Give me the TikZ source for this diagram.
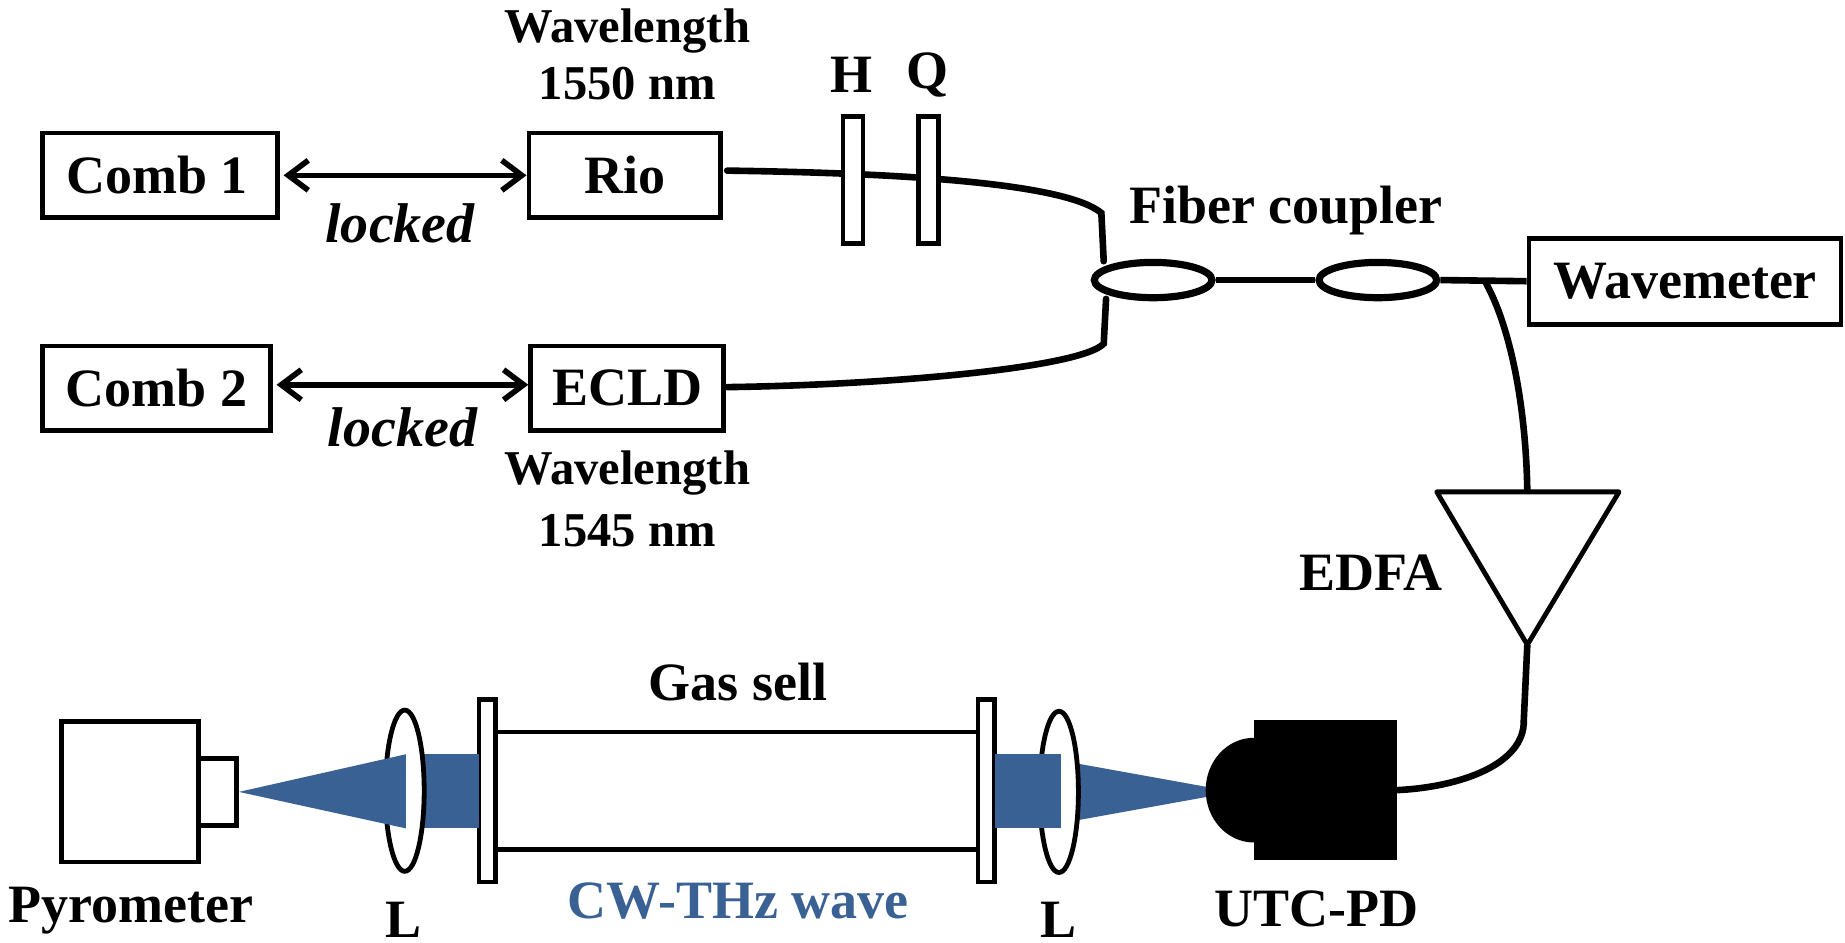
\documentclass[tikz,border=0pt]{standalone}
\usepackage{fontspec}
\setmainfont{Liberation Serif}
\usetikzlibrary{arrows.meta,shapes.geometric}
\definecolor{beam}{HTML}{3A6193}
\def\pxu{0.5883pt}
\tikzset{
  x=0.5883pt,y=-0.5883pt,
  label text/.style={font=\fontsize{27}{30}\selectfont\bfseries,inner sep=0pt,text=black},
  wave text/.style={font=\fontsize{24.3}{30}\selectfont\bfseries,inner sep=0pt,text=black},
  lock text/.style={font=\fontsize{28}{30}\selectfont\bfseries\itshape,inner sep=0pt,text=black},
  box/.style={draw,line width=2.4pt,fill=white,inner sep=0pt,label text},
  plate/.style={draw,line width=2.3pt,fill=white,inner sep=0pt,minimum width=17*\pxu},
  lens/.style={draw,ellipse,line width=2.4pt,fill=white,inner sep=0pt,minimum width=33*\pxu,minimum height=137*\pxu},
  coupler/.style={draw,ellipse,line width=3.6pt,inner sep=0pt,minimum width=100*\pxu,minimum height=30*\pxu},
  fiber/.style={line width=3.3pt},
  tube/.style={line width=2.2pt},
  lockarrow/.style={line width=2.8pt,{Straight Barb[length=10pt,width=15pt,line width=2.8pt]}-{Straight Barb[length=10pt,width=15pt,line width=2.8pt]}},
}
\begin{document}
\begin{tikzpicture}
\useasboundingbox (0,0) rectangle (1568,801);
% boxes
\node[box,minimum width=200*\pxu,minimum height=72*\pxu] (comb1) at (136,149) {\hspace*{-3pt}Comb 1};
\node[box,minimum width=163*\pxu,minimum height=72*\pxu] (rio) at (531,149) {Rio};
\node[box,minimum width=194*\pxu,minimum height=72*\pxu] (comb2) at (133,330) {Comb 2};
\node[box,minimum width=164*\pxu,minimum height=72*\pxu] (ecld) at (533,330) {ECLD};
\node[box,minimum width=265*\pxu,minimum height=73*\pxu] (wave) at (1432,239) {Wavemeter};
% locks
\draw[lockarrow] (comb1.east) ++(3,0) coordinate (c1e) -- (rio.west |- c1e);
\draw[lockarrow] (comb2.east) ++(3,-3) coordinate (c2e) -- (ecld.west |- c2e);
\node[lock text] (lock1) at (340,190) {locked};
\node[lock text] (lock2) at (342,363) {locked};
% wavelength labels
\node[wave text] (w1a) at (533,26) {Wavelength};
\node[wave text] (w1b) at (533,71) {1550 nm};
\node[wave text] (w2a) at (533,402) {Wavelength};
\node[wave text] (w2b) at (533,451) {1545 nm};
\node[label text] (hl) at (724,64) {H};
\node[label text] (ql) at (788,64) {Q};
% couplers
\node[coupler] (cp1) at (980,238) {};
\node[coupler] (cp2) at (1171,238) {};
\node[label text] (fc) at (1093,179) {Fiber coupler};
% fibers
\coordinate (f1s) at (618,145);
\coordinate (f2s) at (618,329);
\coordinate (j1) at (936,181);
\coordinate (j2) at (938,292);
\draw[fiber,line cap=round] (f1s) .. controls (760,147) and (905,155) .. (j1) -- (938,222);
\draw[fiber,line cap=round] (f2s) .. controls (760,327) and (920,312) .. (j2) -- (940,254);
\draw[fiber] (cp1.east) -- (cp2.west);
\draw[fiber] (cp2.east) -- (wave.west);
% plates
\node[plate,minimum height=108*\pxu] (hp) at (725,153) {};
\node[plate,minimum height=108*\pxu] (qp) at (789,153) {};
% EDFA
\coordinate (ta) at (1221,418);
\coordinate (tb) at (1376,418);
\coordinate (tc) at (1298,548);
\draw[line width=2.4pt,line join=round] (ta) -- (tb) -- (tc) -- cycle;
\node[label text] (edfa) at (1165,487) {EDFA};
\coordinate (br) at (1262,239);
\draw[fiber] (br) .. controls (1285,280) and (1297,350) .. (1298,418);
% gas cell
\node[plate,minimum width=14*\pxu,minimum height=155*\pxu] (gl) at (414,672) {};
\node[plate,minimum width=14*\pxu,minimum height=155*\pxu] (gr) at (838,672) {};
\draw[tube] (gl.east |- 0,622) coordinate (t1) -- (gr.west |- t1);
\draw[tube] (gl.east |- 0,722) coordinate (t2) -- (gr.west |- t2);
\node[label text] (gas) at (627,580) {Gas sell};
\node[label text,text=beam] (cw) at (627,766) {CW-THz wave};
% pyrometer
\node[box,minimum width=116*\pxu,minimum height=119*\pxu] (pyro) at (110.5,673) {};
\node[box,minimum width=32*\pxu,minimum height=57*\pxu] (pyrotip) at (185,673) {};
\node[label text] (pl) at (111,774) {Pyrometer};
% beams and lenses
\fill[beam] (352,641) rectangle (407,704);
\node[lens] (l1) at (344,672) {};
\fill[beam] (pyrotip.east) -- (345,641) -- (345,704) -- cycle;
\fill[beam] (905,647) -- (1027,669) -- (1027,677) -- (905,699) -- cycle;
\node[lens] (l2) at (900,673) {};
\fill[beam] (846,641) rectangle (902,704);
\node[label text] (l1t) at (343,782) {L};
\node[label text] (l2t) at (900,782) {L};
% UTC-PD
\node[fill=black,inner sep=0pt,minimum width=121*\pxu,minimum height=119*\pxu] (utc) at (1126.5,671.5) {};
\fill[black] (utc.west |- 0,627) arc[start angle=-90,end angle=-270,x radius=41,y radius=44.5];
\node[label text] (ut) at (1119,772) {UTC-PD};
\draw[fiber] (utc.east) .. controls (1240,669) and (1296,650) .. (1295,612) -- (tc);
\end{tikzpicture}
\end{document}
